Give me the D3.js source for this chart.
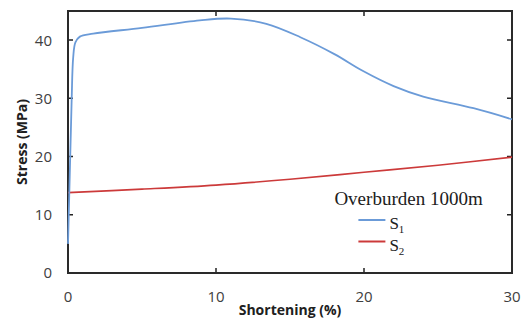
<!DOCTYPE html>
<html>
<head>
<meta charset="utf-8">
<script src="https://d3js.org/d3.v7.min.js"></script>
<style>
  body { margin: 0; background: #fff; }
  svg { display: block; }
</style>
</head>
<body>
<svg width="521" height="320"></svg>
<script>

// shortening (%) and stress (MPa)
var s1X = [0, 0.15, 0.25, 0.35, 0.5, 0.8, 1.7, 5, 8.9, 11, 13.4, 15.7, 18, 20, 22, 24, 27.4, 30];
var s1Y = [5, 20, 30, 37, 39.6, 40.6, 41.1, 42.1, 43.4, 43.7, 42.8, 40.5, 37.6, 34.6, 32.1, 30.3, 28.3, 26.4];
var s2X = [0, 5, 10, 15, 20, 25, 30];
var s2Y = [13.8, 14.4, 15.1, 16.1, 17.3, 18.5, 19.9];
var xTicks = [0, 10, 20, 30];
var yTicks = [0, 10, 20, 30, 40];
var legendTitle = "Overburden 1000m";
var seriesNames = ["1", "2"];
var seriesColors = ["#6b9bd8", "#cc3a3a"];

var svg = d3.select("svg"),
    margin = {top: 11, right: 9, bottom: 47, left: 68},
    width = 521 - margin.left - margin.right,
    height = 320 - margin.top - margin.bottom,
    g = svg.append("g").attr("transform", "translate(" + margin.left + "," + margin.top + ")");

var x = d3.scaleLinear().domain([0, 30]).range([0, width]);
var y = d3.scaleLinear().domain([0, 45]).range([height, 0]);

var labelFont = "'Open Sans', sans-serif";

// tick labels
g.selectAll(".ylab")
  .data(yTicks)
  .enter().append("text")
    .attr("x", -16)
    .attr("y", function(d) { return y(d); })
    .attr("dy", "0.36em")
    .attr("text-anchor", "end")
    .style("font-family", labelFont)
    .style("font-size", "15px")
    .style("fill", "#404040")
    .text(function(d) { return d; });

g.selectAll(".xlab")
  .data(xTicks)
  .enter().append("text")
    .attr("x", function(d) { return x(d); })
    .attr("y", height + 29)
    .attr("text-anchor", "middle")
    .style("font-family", labelFont)
    .style("font-size", "15px")
    .style("fill", "#404040")
    .text(function(d) { return d; });

// axis titles
g.append("text")
    .attr("x", width / 2)
    .attr("y", height + 42)
    .attr("text-anchor", "middle")
    .style("font-family", labelFont)
    .style("font-size", "14px")
    .style("font-weight", "bold")
    .style("fill", "#202020")
    .text("Shortening (%)");

g.append("text")
    .attr("transform", "translate(" + (-41) + "," + (y(22.5)) + ") rotate(-90)")
    .attr("text-anchor", "middle")
    .style("font-family", labelFont)
    .style("font-size", "14px")
    .style("font-weight", "bold")
    .style("fill", "#202020")
    .text("Stress (MPa)");

// inward ticks on all four sides
var tl = 5;
g.selectAll(".ytick")
  .data(yTicks.slice(1))
  .enter().append("path")
    .attr("d", function(d) { return "M0," + y(d) + "h" + tl + "M" + width + "," + y(d) + "h" + (-tl); })
    .attr("stroke", "#222").attr("stroke-width", 1.5);

g.selectAll(".xtick")
  .data(xTicks.slice(1, -1))
  .enter().append("path")
    .attr("d", function(d) { return "M" + x(d) + "," + height + "v" + (-tl) + "M" + x(d) + ",0v" + tl; })
    .attr("stroke", "#222").attr("stroke-width", 1.5);

// frame
g.append("rect")
    .attr("width", width)
    .attr("height", height)
    .attr("fill", "none")
    .attr("stroke", "#2a2a2a")
    .attr("stroke-width", 2);

var line = d3.line()
    .x(function(d) { return x(d[0]); })
    .y(function(d) { return y(d[1]); })
    .curve(d3.curveCatmullRom.alpha(0.5));

g.append("path")
    .datum(d3.zip(s2X, s2Y))
    .attr("fill", "none")
    .attr("stroke", seriesColors[1])
    .attr("stroke-width", 1.6)
    .attr("d", line);

g.append("path")
    .datum(d3.zip(s1X, s1Y))
    .attr("fill", "none")
    .attr("stroke", seriesColors[0])
    .attr("stroke-width", 1.8)
    .attr("d", line);

// legend
var legend = g.append("g").attr("transform", "translate(" + (width * 0.6) + "," + 0 + ")");
var serif = "'Liberation Serif', 'Times New Roman', serif";

legend.append("text")
    .attr("x", 0)
    .attr("y", 194)
    .style("font-family", serif)
    .style("font-size", "19px")
    .style("fill", "#202020")
    .text(legendTitle);

var item = legend.selectAll(".item")
  .data(seriesNames)
  .enter().append("g")
    .attr("transform", function(d, i) { return "translate(0," + (209 + i * 21.5) + ")"; });

item.append("line")
    .attr("x1", 24).attr("x2", 51)
    .attr("stroke", function(d, i) { return seriesColors[i]; })
    .attr("stroke-width", 2);

var lt = item.append("text")
    .attr("x", 55)
    .attr("y", 9)
    .style("font-family", serif)
    .style("font-size", "17px")
    .style("fill", "#202020");
lt.append("tspan").text("S");
lt.append("tspan")
    .attr("dy", 4)
    .style("font-size", "11px")
    .text(function(d) { return d; });

</script>
</body>
</html>
